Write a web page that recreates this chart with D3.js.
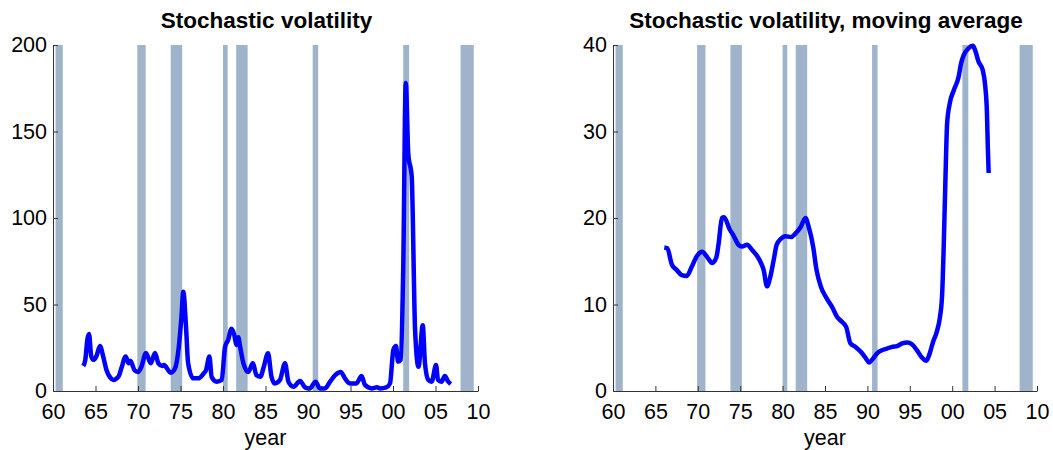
<!DOCTYPE html>
<html>
<head>
<meta charset="utf-8">
<script src="https://cdn.jsdelivr.net/npm/d3@7"></script>
<style>
  body { margin: 0; background: #fff; }
  text { font-family: "Liberation Sans", Arial, Helvetica, sans-serif; }
</style>
</head>
<body>
<div id="chart"></div>
<script>
// chart data
const width = 1053
const height = 450

// NBER recessions (start, end) in years
const recessionStart = [1960.3, 1969.92, 1973.85, 1980.0, 1981.55, 1990.55, 2001.2, 2007.95]
const recessionEnd   = [1961.15, 1970.9, 1975.2, 1980.55, 1982.9, 1991.2, 2001.9, 2009.5]

const xTicks = [1960, 1965, 1970, 1975, 1980, 1985, 1990, 1995, 2000, 2005, 2010]

// stochastic volatility
const svYears = [1963.57, 1963.8, 1964.05, 1964.24, 1964.5, 1964.75, 1965.1, 1965.53, 1965.9, 1966.3, 1966.7,
  1967.1, 1967.7, 1968.1, 1968.55, 1968.9, 1969.1, 1969.6, 1970.0, 1970.4, 1970.94, 1971.5, 1972.0, 1972.4,
  1972.86, 1973.05, 1973.85, 1974.35, 1974.8, 1975.1, 1975.33, 1975.65, 1975.9, 1976.5, 1977.1, 1977.7, 1978.0,
  1978.4, 1978.67, 1979.26, 1979.85, 1980.24, 1980.6, 1981.0, 1981.3, 1981.6, 1981.8, 1982.0, 1982.4, 1982.98,
  1983.5, 1983.96, 1984.4, 1984.8, 1985.3, 1985.7, 1986.1, 1986.7, 1987.3, 1987.7, 1988.3, 1989.06, 1989.65,
  1990.2, 1990.9, 1991.4, 1992.0, 1992.6, 1993.2, 1993.85, 1994.35, 1994.9, 1995.7, 1996.3, 1996.7, 1997.5,
  1998.1, 1998.5, 1999.2, 1999.65, 2000.04, 2000.35, 2000.6, 2000.9, 2001.2, 2001.5, 2001.8, 2002.2, 2002.6,
  2003.0, 2003.5, 2003.76, 2004.15, 2004.55, 2005.06, 2005.3, 2005.7, 2006.1, 2006.5, 2006.8]
const svValues = [14.5, 18, 30, 33, 20, 18, 20, 26, 20, 12, 8,
  6.4, 8.3, 14, 20, 16, 17.5, 12, 11, 14, 22, 16, 22, 16,
  14.5, 15, 10.6, 13, 25.6, 42, 57.4, 37, 16, 7.3, 7.3, 10, 12,
  20, 8, 5.4, 6.4, 25.6, 29.5, 36, 33, 26.6, 31, 26, 16, 11,
  16, 9, 8.3, 14, 21.8, 8.3, 4.4, 6.4, 16, 5.4, 2.5, 5.8, 2.1,
  1.5, 5.4, 1.5, 1.5, 5.4, 9.2, 11, 7.3, 4.4, 4.4, 8.7, 3.5, 1.5,
  2.1, 1.5, 2.1, 4.4, 23.7, 26, 17, 18, 70, 178, 137, 124, 35,
  14, 38, 16, 6.4, 5.4, 15, 6.4, 5.4, 8.7, 5.4, 4]

// stochastic volatility, moving average
const maYears = [1966.05, 1966.4, 1966.95, 1967.5, 1968.1, 1968.7, 1969.3, 1969.9, 1970.5, 1971.1, 1971.7,
  1972.2, 1972.45, 1972.85, 1973.1, 1973.75, 1974.2, 1974.8, 1975.2, 1975.8, 1976.4, 1977.0, 1977.45, 1977.76,
  1978.16, 1978.55, 1978.94, 1979.3, 1979.8, 1980.3, 1981.0, 1981.5, 1982.1, 1982.7, 1983.07, 1983.6, 1984.0,
  1984.5, 1985.2, 1985.9, 1986.4, 1987.0, 1987.5, 1988.0, 1988.6, 1989.25, 1989.8, 1990.2, 1990.7, 1991.2,
  1991.7, 1992.3, 1992.9, 1993.5, 1994.1, 1994.7, 1995.25, 1995.85, 1996.4, 1996.95, 1997.3, 1997.75, 1998.2,
  1998.5, 1998.8, 1999.0, 1999.2, 1999.4, 1999.7, 2000.2, 2000.75, 2001.05, 2001.35, 2001.9, 2002.45, 2002.7,
  2003.1, 2003.6, 2003.9, 2004.1, 2004.2, 2004.3]
const maValues = [16.6, 16.5, 14.6, 14, 13.4, 13.3, 14.4, 15.6, 16.1, 15.5, 14.8,
  15.5, 17, 20, 20.1, 18.7, 18, 16.9, 16.7, 16.9, 16.3, 15.6, 14.8, 14,
  12.1, 13.2, 15.1, 16.9, 17.6, 17.9, 17.8, 18.2, 18.9, 20, 19, 16.7, 14,
  12.1, 10.7, 9.6, 8.6, 8, 7.4, 5.5, 5.1, 4.5, 3.8, 3.3, 3.8, 4.4,
  4.7, 4.9, 5.1, 5.2, 5.5, 5.6, 5.4, 4.7, 3.9, 3.5, 4.2, 5.7, 6.9,
  8.2, 10.9, 16.7, 24.4, 30.9, 33.2, 34.8, 36.3, 37.9, 38.8, 39.6, 39.9, 39.4,
  38.1, 37.1, 35.2, 32.1, 28.2, 25.2]

const svg = d3.select("div#chart").append("svg").attr("width", width).attr("height", height)

function panel(opts) {
    const x = d3.scaleLinear().domain([1960, 2010]).range([opts.left, opts.right])
    const y = d3.scaleLinear().domain([0, opts.yMax]).range([391, 45])
    const g = svg.append("g")

    // recession bands
    g.selectAll("rect.rec").data(recessionStart).join("rect")
        .attr("class", "rec")
        .attr("x", (d, i) => x(d))
        .attr("width", (d, i) => x(recessionEnd[i]) - x(d))
        .attr("y", y(opts.yMax))
        .attr("height", y(0) - y(opts.yMax))
        .attr("fill", "#9fb4cb")

    // line
    const line = d3.line().x((d, i) => x(opts.years[i])).y(d => y(d)).curve(d3.curveMonotoneX)
    g.append("path").datum(opts.values)
        .attr("d", line)
        .attr("fill", "none")
        .attr("stroke", "#0000ff")
        .attr("stroke-width", 4.5)
        .attr("stroke-linejoin", "round")

    // axes (ticks inside, matlab style)
    const xAxis = d3.axisBottom(x).tickValues(xTicks).tickSizeInner(-5).tickSizeOuter(0)
        .tickPadding(13).tickFormat(d => d3.format("02d")(d % 100))
    const yAxis = d3.axisLeft(y).tickValues(opts.yTicks).tickSizeInner(-5).tickSizeOuter(0).tickPadding(6)

    const xg = g.append("g").attr("transform", `translate(0, ${y(0)})`).call(xAxis)
    const yg = g.append("g").attr("transform", `translate(${opts.left}, 0)`).call(yAxis)
    ;[xg, yg].forEach(a => {
        a.select(".domain").attr("stroke", "#333")
        a.selectAll(".tick line").attr("stroke", "#333")
        a.selectAll(".tick text").attr("font-size", 21.5).attr("fill", "#000")
            .attr("font-family", "'Liberation Sans', Arial, sans-serif")
    })
    xg.selectAll(".tick text").attr("dy", "0.71em")

    g.append("text")
        .attr("x", (opts.left + opts.right) / 2)
        .attr("y", 445)
        .attr("text-anchor", "middle")
        .attr("font-size", 21.5)
        .text("year")

    g.append("text")
        .attr("x", (opts.left + opts.right) / 2 + 1)
        .attr("y", 28)
        .attr("text-anchor", "middle")
        .attr("font-size", 22.5)
        .attr("font-weight", "bold")
        .text(opts.title)
}

panel({ left: 53, right: 478, yMax: 200, yTicks: [0, 50, 100, 150, 200],
        years: svYears, values: svValues, title: "Stochastic volatility" })
panel({ left: 613, right: 1037, yMax: 40, yTicks: [0, 10, 20, 30, 40],
        years: maYears, values: maValues, title: "Stochastic volatility, moving average" })
</script>
</body>
</html>
